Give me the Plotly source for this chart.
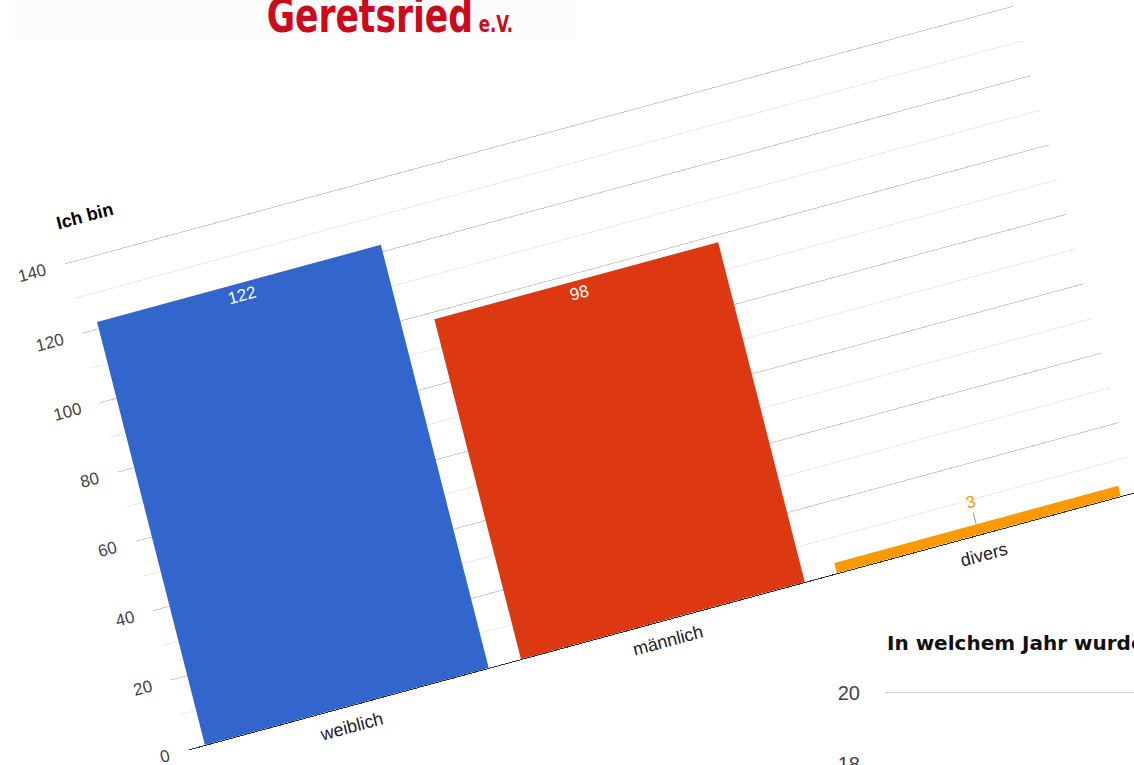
import math
import plotly.graph_objects as go

# ---------------- data ----------------
categories = ["weiblich", "männlich", "divers"]
counts = [122, 98, 3]
bar_colors = ["#3366cc", "#dc3912", "#ff9900"]
y_ticks = [0, 20, 40, 60, 80, 100, 120, 140]
chart_title = "Ich bin"

second_title = "In welchem Jahr wurde"
second_ticks = [18, 20]

logo_main = "Geretsried"
logo_small = "e.V."

# ---------------- layout geometry (unrotated design, px) ----------------
W, H = 1134, 765
px_per_unit = 3.579
y_max = 140.5
plot_left, plot_right = 110, 1092.5
plot_bottom = 639.0
plot_top = plot_bottom - y_max * px_per_unit

# photographed chart is tilted: horizontal axis ~15.2 deg, vertical ~14.3 deg
alpha = math.radians(15.2)
beta = math.radians(14.3)
a1, a2 = math.cos(alpha), -math.sin(alpha)
b1, b2 = math.sin(beta), math.cos(beta)
anchor_screen = (188.8, 749.4)   # where the baseline's left end appears
e = anchor_screen[0] - a1 * plot_left - b1 * plot_bottom
f = anchor_screen[1] - a2 * plot_left - b2 * plot_bottom
tilt = "matrix(%.5f,%.5f,%.5f,%.5f,%.3f,%.3f)" % (a1, a2, b1, b2, e, f)

# logo: condensed horizontally around its left point
logo_x = 265
logo_sx = 0.80
logo_tf = "matrix(%.4f,0,0,1,%.3f,0)" % (logo_sx, logo_x * (1 - logo_sx))

FONT = "Liberation Sans, Arial, sans-serif"

fig = go.Figure()

fig.add_trace(go.Bar(
    x=categories, y=counts,
    marker=dict(color=bar_colors, line=dict(width=0)),
    texttemplate="%{y}",
    textposition=["inside", "inside", "none"],
    insidetextanchor="end",
    textangle=0,
    insidetextfont=dict(family=FONT, size=17, color="white"),
    showlegend=False, hoverinfo="skip",
    xaxis="x", yaxis="y",
))

fig.add_trace(go.Scatter(x=[], y=[], xaxis="x2", yaxis="y2",
                         showlegend=False, hoverinfo="skip"))

fig.update_layout(
    template="none",
    width=W, height=H, autosize=False,
    margin=dict(l=0, r=0, t=0, b=0, pad=0),
    paper_bgcolor="white", plot_bgcolor="white",
    bargap=0.102,
    font=dict(family=FONT),
    xaxis=dict(
        domain=[plot_left / W, plot_right / W],
        type="category",
        showgrid=False, zeroline=False,
        showline=True, linecolor="#333333", linewidth=1,
        ticks="", tickfont=dict(family=FONT, size=18, color="#222222"),
        ticklabelstandoff=4,
        automargin=False, anchor="y",
    ),
    yaxis=dict(
        domain=[1 - plot_bottom / H, 1 - plot_top / H],
        range=[0, y_max],
        tickvals=y_ticks,
        showgrid=True, gridcolor="#cccccc", gridwidth=1,
        minor=dict(dtick=10, showgrid=True, gridcolor="#ebebeb", gridwidth=1, ticks=""),
        zeroline=False, showline=False, ticks="",
        tickfont=dict(family=FONT, size=17, color="#444444"),
        ticklabelstandoff=19,
        automargin=False, anchor="x",
    ),
    xaxis2=dict(
        domain=[885 / W, 1.0], range=[0, 1],
        showgrid=False, zeroline=False, showline=False,
        showticklabels=False, ticks="", automargin=False, anchor="y2",
    ),
    yaxis2=dict(
        domain=[0, 75 / H], range=[17.98, 20.08],
        tickvals=second_ticks, ticktext=[str(t) for t in second_ticks],
        showgrid=True, gridcolor="#cccccc", gridwidth=1,
        zeroline=False, showline=False, ticks="",
        tickfont=dict(family=FONT, size=20, color="#444444"),
        ticklabelstandoff=24, ticklabeloverflow="allow",
        automargin=False, anchor="x2",
    ),
)

annotations = [
    # chart 1 (tilted with the chart)
    dict(text="<b>%s</b>" % chart_title, xref="x domain", yref="paper",
         x=0, y=1 - 97 / H, xanchor="left", yanchor="middle", showarrow=False,
         font=dict(family=FONT, size=18, color="#000000")),
    dict(text=str(counts[2]), xref="x", yref="y", x=categories[2], y=counts[2],
         showarrow=True, arrowhead=0, arrowwidth=1, arrowcolor="#999999",
         ax=0, ay=-23, font=dict(family=FONT, size=17, color="#ff9900")),
    # untilted elements
    dict(text="<b>%s</b>" % second_title, xref="x2 domain", yref="paper",
         x=0, y=1 - 643 / H, xanchor="left", yanchor="middle", showarrow=False,
         font=dict(family="DejaVu Sans, sans-serif", size=20, color="#111111")),
    dict(text="<b>%s<span style='font-size:23px'> %s</span></b>" % (logo_main, logo_small),
         xref="paper", yref="paper", x=logo_x / W, y=1 - 15 / H,
         xanchor="left", yanchor="middle", showarrow=False,
         font=dict(family="DejaVu Sans Condensed, DejaVu Sans, sans-serif",
                   size=48, color="#cc0a1e")),
]
fig.update_layout(annotations=annotations)

fig.add_shape(type="rect", xref="paper", yref="paper",
              x0=15 / W, x1=575 / W, y0=1 - 40 / H, y1=1.0,
              fillcolor="#fcfcfc", line=dict(width=0), layer="below")

post = """
document.body.style.margin = '0';
var gd = document.getElementById('{plot_id}');
var T = '%s';
var sp = gd.querySelector('.cartesianlayer .subplot.xy');
if (sp) { sp.setAttribute('transform', T); }
[0, 1].forEach(function(i) {
  var a = gd.querySelector('.infolayer .annotation[data-index="' + i + '"]');
  if (a) { a.setAttribute('transform', T); }
});
var lg = gd.querySelector('.infolayer .annotation[data-index="3"]');
if (lg) { lg.setAttribute('transform', '%s'); }
""" % (tilt, logo_tf)

fig.write_html("out.html", post_script=post,
               config={"staticPlot": True, "responsive": False, "displayModeBar": False})
